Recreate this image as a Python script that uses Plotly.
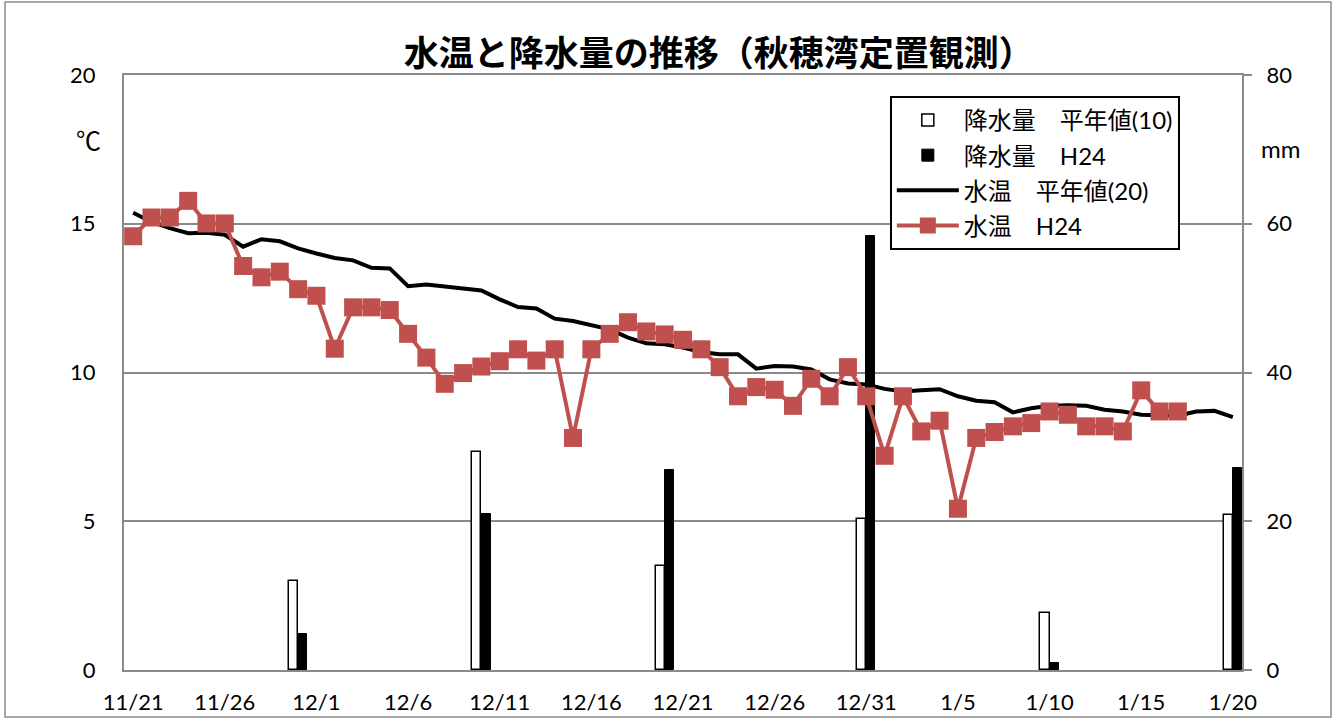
import plotly.graph_objects as go

# ---- data ----
dates = [
    "11/21", "11/22", "11/23", "11/24", "11/25", "11/26", "11/27", "11/28", "11/29", "11/30",
    "12/1", "12/2", "12/3", "12/4", "12/5", "12/6", "12/7", "12/8", "12/9", "12/10",
    "12/11", "12/12", "12/13", "12/14", "12/15", "12/16", "12/17", "12/18", "12/19", "12/20",
    "12/21", "12/22", "12/23", "12/24", "12/25", "12/26", "12/27", "12/28", "12/29", "12/30", "12/31",
    "1/1", "1/2", "1/3", "1/4", "1/5", "1/6", "1/7", "1/8", "1/9", "1/10",
    "1/11", "1/12", "1/13", "1/14", "1/15", "1/16", "1/17", "1/18", "1/19", "1/20",
]

temp_normal = [
    15.37, 15.06, 14.85, 14.68, 14.70, 14.63, 14.23, 14.48, 14.41, 14.17,
    14.00, 13.85, 13.77, 13.52, 13.50, 12.90, 12.96, 12.90, 12.85, 12.76,
    12.46, 12.20, 12.15, 11.81, 11.73, 11.60, 11.45, 11.17, 10.98, 10.95,
    10.84, 10.69, 10.61, 10.61, 10.13, 10.22, 10.20, 10.10, 9.77, 9.63, 9.60,
    9.45, 9.36, 9.40, 9.44, 9.20, 9.05, 9.00, 8.66, 8.80, 8.88,
    8.90, 8.88, 8.75, 8.69, 8.58, 8.58, 8.55, 8.69, 8.71, 8.50,
]

temp_h24 = [
    14.58, 15.21, 15.21, 15.77, 15.01, 15.01, 13.58, 13.20, 13.39, 12.80,
    12.58, 10.80, 12.19, 12.19, 12.10, 11.30, 10.50, 9.62, 9.98, 10.20,
    10.38, 10.78, 10.40, 10.78, 7.80, 10.78, 11.30, 11.69, 11.38, 11.28,
    11.10, 10.78, 10.18, 9.20, 9.51, 9.42, 8.88, 9.79, 9.20, 10.18, 9.20,
    7.20, 9.20, 8.02, 8.38, 5.42, 7.80, 8.00, 8.19, 8.30, 8.69,
    8.58, 8.19, 8.19, 8.02, 9.40, 8.69, 8.69,
]

precip_dates = ["11/30", "12/10", "12/20", "12/31", "1/10", "1/20"]
precip_normal = [11.9, 29.3, 14.0, 20.3, 7.7, 20.9]
precip_h24 = [4.8, 21.0, 26.9, 58.4, 1.0, 27.1]

x_ticks = ["11/21", "11/26", "12/1", "12/6", "12/11", "12/16", "12/21",
           "12/26", "12/31", "1/5", "1/10", "1/15", "1/20"]

FONT = "Lato, 'Noto Sans CJK JP', sans-serif"
GRID = "#8a8a8a"
RED = "#C0504D"

fig = go.Figure()

fig.add_trace(go.Bar(
    x=precip_dates, y=precip_normal, name="降水量　平年値(10)",
    marker=dict(color="white", line=dict(color="black", width=1.5)),
    yaxis="y", legendgroup="a",
))
fig.add_trace(go.Bar(
    x=precip_dates, y=precip_h24, name="降水量　H24",
    marker=dict(color="black", line=dict(color="black", width=1)),
    yaxis="y", legendgroup="b",
))
fig.add_trace(go.Scatter(
    x=dates, y=temp_normal, name="水温　平年値(20)", mode="lines",
    line=dict(color="black", width=4), yaxis="y2", legendgroup="c",
))
fig.add_trace(go.Scatter(
    x=dates[:len(temp_h24)], y=temp_h24, name="水温　H24", mode="lines+markers",
    line=dict(color=RED, width=4),
    marker=dict(symbol="square", size=18, color=RED, line=dict(color=RED, width=0)),
    yaxis="y2", legendgroup="d",
))

fig.update_layout(
    width=1336, height=720,
    margin=dict(l=124, r=94, t=75, b=50, autoexpand=False),
    paper_bgcolor="white", plot_bgcolor="white",
    font=dict(family=FONT, size=22, color="black"),
    title=dict(
        text="<b>水温と降水量の推移（秋穂湾定置観測）</b>",
        font=dict(family="'Noto Sans CJK JP', sans-serif", size=35, color="black"),
        xref="container", x=0.538, xanchor="center",
        yref="container", y=0.926, yanchor="middle",
    ),
    barmode="group", bargap=0, bargroupgap=0,
    xaxis=dict(
        type="category", categoryorder="array", categoryarray=dates,
        range=[-0.5, len(dates) - 0.5], automargin=False,
        tickmode="array", tickvals=x_ticks, ticktext=x_ticks,
        showgrid=False, showline=True, linecolor=GRID, linewidth=2, mirror=True,
        ticks="", ticklabelstandoff=12,
        tickfont=dict(family=FONT, size=22),
    ),
    yaxis=dict(
        range=[0, 80], dtick=20, side="right", automargin=False,
        showgrid=True, gridcolor=GRID, gridwidth=1.5,
        showline=True, linecolor=GRID, linewidth=2,
        ticks="outside", ticklen=8, tickcolor=GRID, tickwidth=1.5,
        zeroline=False, ticklabelstandoff=10,
        tickfont=dict(family=FONT, size=22),
    ),
    yaxis2=dict(
        range=[0, 20], dtick=5, side="left", overlaying="y", automargin=False,
        showgrid=False, showline=True, linecolor=GRID, linewidth=2,
        ticks="", zeroline=False, ticklabelstandoff=22,
        tickfont=dict(family=FONT, size=22),
    ),
    legend=dict(
        x=0.685, y=0.965, xanchor="left", yanchor="top",
        bgcolor="white", bordercolor="black", borderwidth=2,
        traceorder="grouped", tracegroupgap=1,
        itemwidth=62,
        font=dict(family=FONT, size=24),
    ),
    annotations=[
        dict(text="℃", xref="paper", yref="paper", x=-0.032, y=0.891,
             showarrow=False, font=dict(family=FONT, size=25), xanchor="center", yanchor="middle"),
        dict(text="mm", xref="paper", yref="paper", x=1.034, y=0.877,
             showarrow=False, font=dict(family=FONT, size=24), xanchor="center", yanchor="middle"),
    ],
    shapes=[
        dict(type="rect", xref="paper", yref="paper",
             x0=-0.1064, x1=1.0796, y0=-0.0790, y1=1.1227,
             line=dict(color=GRID, width=1.5), layer="below"),
    ],
)

fig.write_html(
    "out.html",
    config={"displayModeBar": False},
    post_script="document.body.style.margin='0';document.body.style.overflow='hidden';",
)
